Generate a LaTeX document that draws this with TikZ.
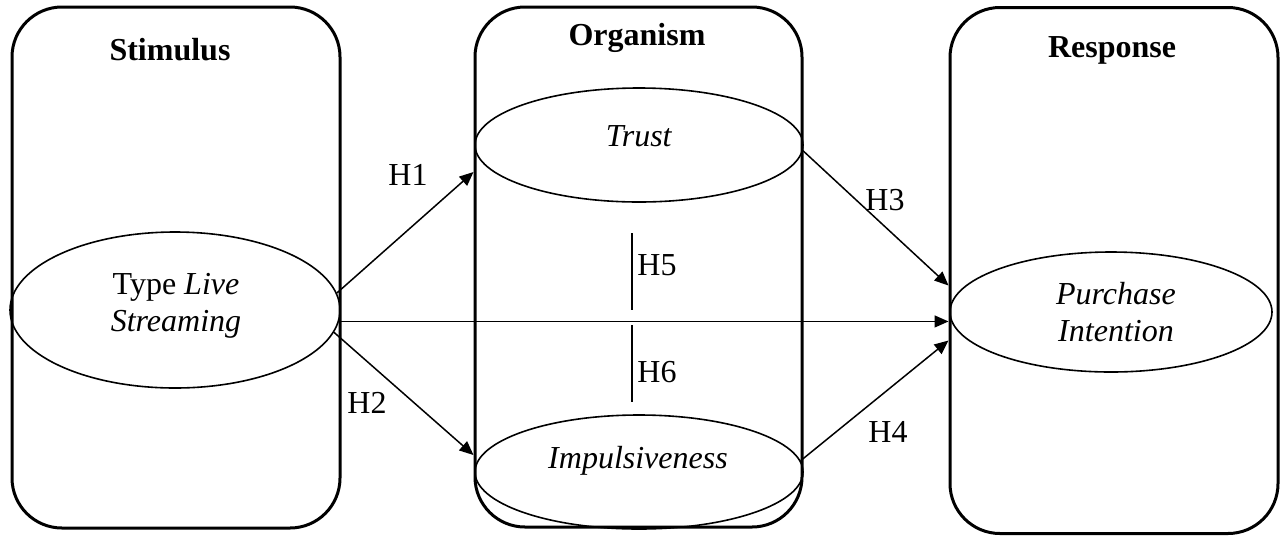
\documentclass[tikz,border=0pt]{standalone}
\usepackage{fontspec}
\setmainfont{Liberation Serif}
\usetikzlibrary{shapes.geometric,arrows.meta}
\begin{document}
\begin{tikzpicture}[x=0.5pt,y=-0.5pt,
  every node/.style={font=\fontsize{16}{18.5}\selectfont},
  panel/.style={draw,line width=1.5pt,rounded corners=25pt,minimum width=#1,inner sep=0pt},
  construct/.style={draw,ellipse,line width=0.8pt,inner sep=0pt,minimum width=#1},
  title/.style={font=\fontsize{16}{18.5}\selectfont\bfseries},
  arr/.style={line width=0.75pt,-{Triangle[length=7pt,width=6pt]}},
  hyp/.style={inner sep=0pt},
  sep/.style={line width=1pt}]
\useasboundingbox (0,0) rectangle (1280,537);
% panels
\node[panel=164pt,minimum height=260.5pt] (stim) at (176,267.5) {};
\node[panel=163.5pt,minimum height=260pt] (org) at (638.5,267) {};
\node[panel=164pt,minimum height=263pt] (resp) at (1114,270.5) {};
% titles
\node[title] (tstim) at (170,50) {Stimulus};
\node[title] (torg) at (637,38) {Organism};
\node[title] (tresp) at (1112,50) {Response};
% constructs
\node[construct=165pt,minimum height=78pt] (ls) at (175,310) {};
\node[align=center] (lstext) at (176,306) {Type \textit{Live}\\\textit{Streaming}};
\node[construct=164pt,minimum height=57pt] (trust) at (639,145) {};
\node (trusttext) at (639,136) {\textit{Trust}};
\node[construct=164pt,minimum height=57pt] (imp) at (639,472) {};
\node (imptext) at (638,461) {\textit{Impulsiveness}};
\node[construct=161pt,minimum height=60pt] (pi) at (1111,312) {};
\node[align=center] (pitext) at (1116,312) {\textit{Purchase}\\\textit{Intention}};
% connectors
\draw[arr] (ls.6) -- ([yshift=47.5pt]org.west);
\draw[arr] (ls.-8) -- ([yshift=-94pt]org.west);
\draw[arr] (ls.-4) -- (ls.-4 -| resp.west);
\draw[arr] (trust.-2) -- ([yshift=-7.5pt]resp.west);
\draw[arr] (imp.4) -- ([yshift=-35pt]resp.west);
% H5 / H6 separators
\coordinate (h5a) at (632,233);
\coordinate (h5b) at (632,310);
\coordinate (h6a) at (632,325);
\coordinate (h6b) at (632,402);
\draw[sep] (h5a) -- (h5b);
\draw[sep] (h6a) -- (h6b);
% labels
\node[hyp] (h1) at (408,175) {H1};
\node[hyp] (h2) at (367,403) {H2};
\node[hyp] (h3) at (885,200) {H3};
\node[hyp] (h4) at (888,432) {H4};
\node[hyp,anchor=west] (h5) at (637,265) {H5};
\node[hyp,anchor=west] (h6) at (637,372) {H6};
\end{tikzpicture}
\end{document}
